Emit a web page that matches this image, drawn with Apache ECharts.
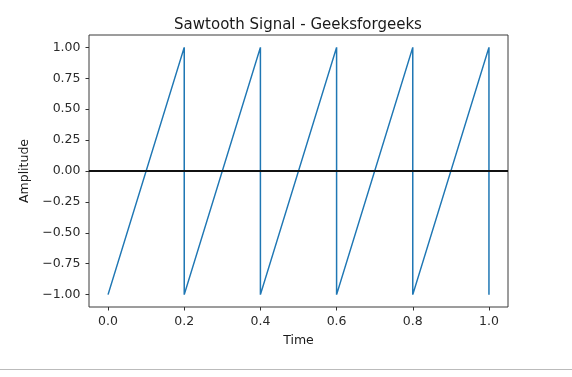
<!DOCTYPE html>
<html>
<head>
<meta charset="utf-8">
<style>
  html, body { margin: 0; padding: 0; background: #fff; }
  #main { width: 572px; height: 377px; }
</style>
<script src="https://cdn.jsdelivr.net/npm/echarts@6/dist/echarts.min.js"></script>
</head>
<body>
<div id="main"></div>
<script>
// sawtooth corners: rise -1 -> 1 over each 0.2 s, then drop
var timeValues = [0.0, 0.2, 0.2, 0.4, 0.4, 0.6, 0.6, 0.8, 0.8, 1.0, 1.0];
var ampValues = [-1, 1, -1, 1, -1, 1, -1, 1, -1, 1, -1];
var xTicks = [0.0, 0.2, 0.4, 0.6, 0.8, 1.0];
var yTicks = [-1.0, -0.75, -0.5, -0.25, 0.0, 0.25, 0.5, 0.75, 1.0];

var font = 'DejaVu Sans';

function minus (s) {
  return s.replace('-', '\u2212')
}

var myChart = echarts.init(document.getElementById('main'))
myChart.setOption({
  animation: false,
  textStyle: { fontFamily: font },
  title: {
    text: 'Sawtooth Signal - Geeksforgeeks',
    left: 293,
    top: 13,
    textAlign: 'center',
    textStyle: { fontFamily: font, fontSize: 15, fontWeight: 'normal', color: '#1a1a1a' }
  },
  grid: {
    left: 89,
    top: 35,
    width: 419,
    height: 272,
    show: true,
    borderColor: '#3a3a3a',
    borderWidth: 1,
    containLabel: false
  },
  xAxis: {
    type: 'value',
    min: -0.05,
    max: 1.05,
    name: 'Time',
    nameLocation: 'middle',
    nameGap: 27,
    nameTextStyle: { fontFamily: font, fontSize: 12.5, color: '#1a1a1a' },
    splitLine: { show: false },
    axisLine: { show: false, onZero: false },
    axisTick: { show: true, length: 3.5, customValues: xTicks, lineStyle: { color: '#333' } },
    axisLabel: {
      customValues: xTicks,
      fontFamily: font, fontSize: 12.5, color: '#2a2a2a', margin: 8,
      formatter: function (v) { return v.toFixed(1) }
    }
  },
  yAxis: {
    type: 'value',
    min: -1.1,
    max: 1.1,
    name: 'Amplitude',
    nameLocation: 'middle',
    nameRotate: 90,
    nameGap: 53,
    nameTextStyle: { fontFamily: font, fontSize: 12.5, color: '#1a1a1a' },
    splitLine: { show: false },
    axisLine: { show: false, onZero: false },
    axisTick: { show: true, length: 3.5, customValues: yTicks, lineStyle: { color: '#333' } },
    axisLabel: {
      customValues: yTicks,
      fontFamily: font, fontSize: 12.5, color: '#2a2a2a', margin: 8.5,
      formatter: function (v) { return minus(v.toFixed(2)) }
    }
  },
  series: [
    {
      type: 'line',
      data: timeValues.map(function (t, i) { return [t, ampValues[i]] }),
      showSymbol: false,
      lineStyle: { color: '#1f77b4', width: 1.5 },
      markLine: {
        silent: true,
        symbol: 'none',
        label: { show: false },
        lineStyle: { color: '#111', width: 2, type: 'solid' },
        data: [{ yAxis: 0 }]
      }
    }
  ],
  graphic: [
    {
      type: 'line',
      shape: { x1: 0, y1: 369.5, x2: 572, y2: 369.5 },
      style: { stroke: '#bbb', lineWidth: 1 }
    }
  ]
})
</script>
</body>
</html>
